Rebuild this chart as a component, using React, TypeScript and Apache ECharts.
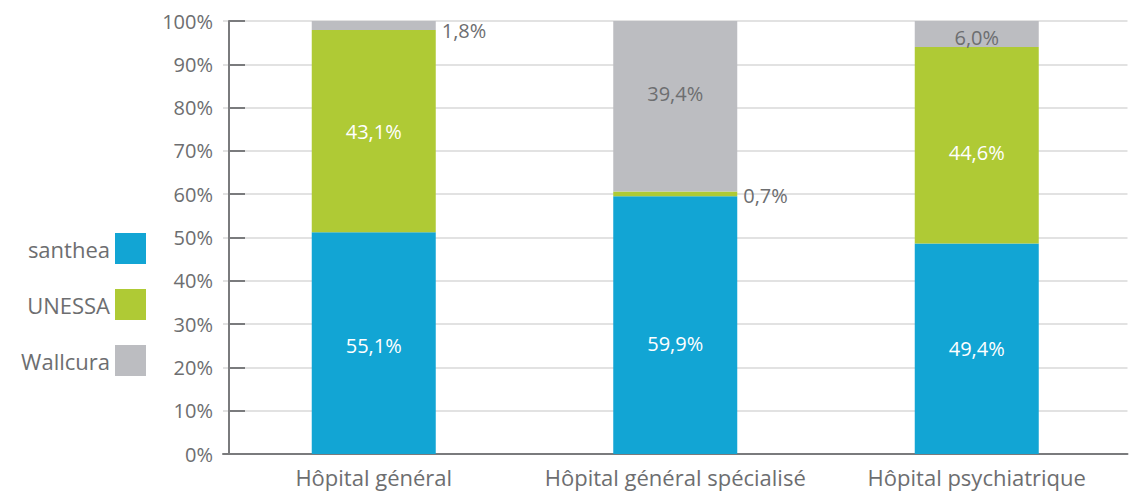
import React, { useEffect, useRef } from "react";
import * as echarts from "echarts";

const categories = ["Hôpital général", "Hôpital général spécialisé", "Hôpital psychiatrique"];
const seriesNames = ["santhea", "UNESSA", "Wallcura"];
// bar heights as drawn (%)
const santheaBars = [51.2, 59.5, 48.6];
const unessaBars = [46.7, 1.1, 45.4];
const wallcuraBars = [2.1, 39.4, 6.0];
// printed shares (%)
const santheaShares = [55.1, 59.9, 49.4];
const unessaShares = [43.1, 0.7, 44.6];
const wallcuraShares = [1.8, 39.4, 6.0];
const yTicks = [0, 10, 20, 30, 40, 50, 60, 70, 80, 90, 100];

const COLORS = ["#12a5d4", "#afca35", "#bcbdc1"];
const GRAY = "#6d6e70";
const FONT = "Open Sans";

const fmt = (v: number) => v.toFixed(1).replace(".", ",") + "%";

export default function App() {
  const ref = useRef<HTMLDivElement>(null);
  useEffect(() => {
    if (!ref.current) return;
    const chart = echarts.init(ref.current, null, { renderer: "svg" });
    const bars = [santheaBars, unessaBars, wallcuraBars];
    const shares = [santheaShares, unessaShares, wallcuraShares];
    // per-item label tweaks, rows = series, columns = categories
    const labelTweaks: any[][] = [
      [{ offset: [0, 2] }, { offset: [0, 18] }, { offset: [0, 0] }],
      [{ offset: [0, 0] }, { position: "right", offset: [0, 2] }, { offset: [0, 7] }],
      [{ position: "right", offset: [0, 5] }, { offset: [0, -13] }, { offset: [0, 4] }],
    ];
    const series = seriesNames.map((name, si) => ({
      name,
      type: "bar",
      stack: "total",
      barWidth: 124,
      itemStyle: { color: COLORS[si] },
      label: {
        show: true,
        position: "inside",
        color: si === 2 ? GRAY : "#ffffff",
        fontFamily: FONT,
        fontSize: 20,
      },
      data: bars[si].map((v, ci) => {
        const t = labelTweaks[si][ci] || {};
        const isOut = t.position === "right";
        return {
          value: v,
          label: {
            formatter: fmt(shares[si][ci]),
            position: t.position || "inside",
            offset: t.offset,
            distance: 6,
            color: isOut ? GRAY : si === 2 ? GRAY : "#ffffff",
          },
        };
      }),
    }));
    chart.setOption({
      animation: false,
      textStyle: { fontFamily: FONT },
      legend: {
        data: seriesNames,
        orient: "vertical",
        align: "right",
        right: 985,
        top: 228,
        itemWidth: 31,
        itemHeight: 31,
        itemGap: 25,
        icon: "rect",
        textStyle: { color: GRAY, fontSize: 22, fontFamily: FONT },
        selectedMode: false,
      },
      grid: { left: 223, right: 8.5, top: 21, bottom: 40, containLabel: false },
      xAxis: {
        type: "category",
        data: categories,
        axisTick: { show: false },
        axisLine: { lineStyle: { color: "#7a7b7d", width: 2 } },
        axisLabel: { color: GRAY, fontSize: 22, fontFamily: FONT, margin: 12, interval: 0, hideOverlap: false },
      },
      yAxis: {
        type: "value",
        min: 0,
        max: 100,
        interval: 10,
        offset: -6,
        axisLine: { show: true, lineStyle: { color: "#7a7b7d", width: 2 } },
        axisTick: { show: true, inside: true, length: 16, lineStyle: { color: "#7a7b7d", width: 2 } },
        splitLine: { lineStyle: { color: "#d9d9d9", width: 1.5 } },
        axisLabel: {
          color: GRAY,
          fontSize: 20,
          fontFamily: FONT,
          margin: 16,
          formatter: (v: number) => (yTicks.includes(v) ? v + "%" : ""),
        },
      },
      series,
    });
    return () => chart.dispose();
  }, []);
  return <div ref={ref} style={{ width: 1136, height: 494, position: "absolute", left: 0, top: 0 }} />;
}
